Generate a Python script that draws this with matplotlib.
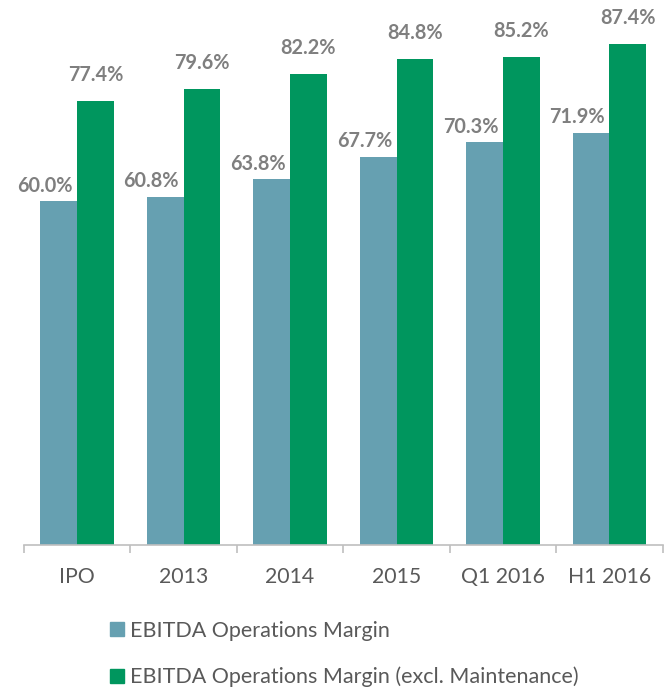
import matplotlib
matplotlib.use("Agg")
import matplotlib.pyplot as plt
import numpy as np
from matplotlib.patches import Patch

categories = ["IPO", "2013", "2014", "2015", "Q1 2016", "H1 2016"]
ebitda_margin = [60.0, 60.8, 63.8, 67.7, 70.3, 71.9]
ebitda_excl_maint = [77.4, 79.6, 82.2, 84.8, 85.2, 87.4]
series_names = ["EBITDA Operations Margin", "EBITDA Operations Margin (excl. Maintenance)"]

blue = "#66A0B1"
green = "#00965E"
label_col = "#7F7F7F"
text_col = "#595959"

plt.rcParams['font.family'] = ['Lato', 'DejaVu Sans']

fig = plt.figure(figsize=(6.64, 6.87), dpi=100)
ax = fig.add_axes([0.036, 0.2067, 0.962, 0.7933])

x = np.arange(len(categories))
w = 0.345
b1 = ax.bar(x - w/2, ebitda_margin, w, color=blue)
b2 = ax.bar(x + w/2, ebitda_excl_maint, w, color=green)

for r, v in zip(b1, ebitda_margin):
    ax.annotate(f"{v:.1f}%", (r.get_x() + r.get_width()/2, v),
                xytext=(-10, 4), textcoords="offset points",
                ha="center", va="bottom", fontsize=14.3, fontweight="bold",
                color=label_col)
for r, v in zip(b2, ebitda_excl_maint):
    ax.annotate(f"{v:.1f}%", (r.get_x() + r.get_width()/2, v),
                xytext=(0, 11.5), textcoords="offset points",
                ha="center", va="bottom", fontsize=14.3, fontweight="bold",
                color=label_col)

ax.set_xlim(-0.5, 5.5)
ax.set_ylim(0, 95.1)
ax.set_yticks([])
for s in ["top", "right", "left"]:
    ax.spines[s].set_visible(False)
ax.spines["bottom"].set_color("#BFBFBF")
ax.spines["bottom"].set_linewidth(1.2)

ax.set_xticks(x)
ax.set_xticklabels(categories, fontsize=15.3, color=text_col)
ax.tick_params(axis="x", length=0, pad=16)
ax.set_xticks(np.arange(-0.5, 6.0, 1.0), minor=True)
ax.tick_params(axis="x", which="minor", length=6, color="#BFBFBF", width=1.2)

handles = [Patch(color=blue), Patch(color=green)]
fig.legend(handles, series_names, loc="upper left", bbox_to_anchor=(0.166, 0.096),
           frameon=False, fontsize=15.5, labelcolor=text_col, handlelength=0.62,
           handleheight=0.62, handletextpad=0.3, labelspacing=1.2,
           borderaxespad=0, borderpad=0)

fig.savefig("out.png", dpi=100)
